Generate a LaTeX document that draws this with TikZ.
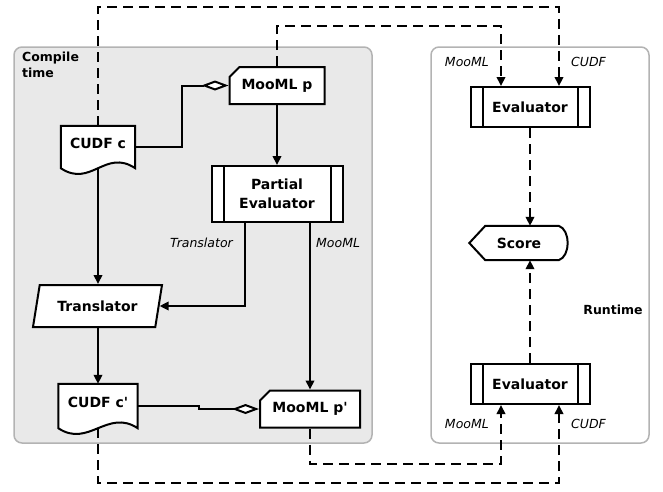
\documentclass[tikz,border=0pt]{standalone}
\usepackage{fontspec}
\setmainfont{DejaVu Sans}
\usetikzlibrary{calc,arrows.meta,shapes.geometric,shapes.misc}

\definecolor{regionfill}{HTML}{E9E9E9}
\definecolor{regionline}{HTML}{B3B3B3}

\pgfdeclarelayer{back}
\pgfdeclarelayer{links}
\pgfdeclarelayer{shapes}
\pgfsetlayers{back,links,shapes,main}

\tikzset{
  region/.style={draw=regionline, line width=1.5pt, rounded corners=8pt},
  regionlabel/.style={font=\fontsize{12.5}{16}\selectfont\bfseries, inner sep=0pt, align=left},
  boxtext/.style={font=\fontsize{14}{19}\selectfont\bfseries, align=center},
  process/.style={boxtext, draw, fill=white, line width=2pt, minimum width=119pt, minimum height=40pt},
  card/.style={boxtext, chamfered rectangle, chamfered rectangle corners=north west,
    chamfered rectangle xsep=5pt, chamfered rectangle ysep=5pt,
    draw, fill=white, line width=2pt, minimum height=37pt},
  doc/.style={boxtext, minimum height=42pt, text height=10.5pt, text depth=8pt},
  dataio/.style={boxtext, trapezium, trapezium left angle=69, trapezium right angle=111,
    trapezium stretches body, draw, fill=white, line width=2pt,
    minimum width=129pt, minimum height=42pt},
  scorebox/.style={boxtext, minimum width=99pt, minimum height=34pt},
  outline/.style={draw, fill=white, line width=2pt},
  flow/.style={line width=2pt, -{Triangle[length=9pt,width=8.5pt]}},
  ctl/.style={flow, dash pattern=on 10pt off 6pt},
  joint/.style={line width=2pt, -{Diamond[fill=white,length=27pt,width=10pt]}},
  lbl/.style={font=\fontsize{12.5}{15}\selectfont\itshape, inner sep=0pt}
}

\begin{document}
\begin{tikzpicture}[x=1pt,y=-1pt]
  \useasboundingbox (0,0) rectangle (663,491);

  %regions
  \begin{pgfonlayer}{back}
    \draw[region, fill=regionfill] (14,47) rectangle (372,443);
    \draw[region, fill=white] (431,47) rectangle (649,443);
  \end{pgfonlayer}
  \node[regionlabel, anchor=north west] (ctlabel) at (22,52) {Compile\\time};
  \node[regionlabel] (rtlabel) at (613,310) {Runtime};

  %compile time
  \node[card, minimum width=95pt] (mlp) at (277,85.5) {MooML p};
  \node[doc, minimum width=74pt] (cudfc) at (98,147) {CUDF c};
  \node[process, minimum width=131pt, minimum height=56pt] (pe) at (277,194) {Partial\\Evaluator};
  \node[dataio] (trans) at (97.5,306) {Translator};
  \node[doc, minimum width=79pt, minimum height=44pt] (cudfc2) at (98,406) {CUDF c\textquotesingle};
  \node[card, minimum width=100pt] (mlp2) at (310,409) {MooML p\textquotesingle};

  %runtime
  \node[process] (evtop) at (530,107) {Evaluator};
  \node[scorebox] (score) at (519,243) {Score};
  \node[process] (evbot) at (530,384) {Evaluator};

  %side bars of the processes
  \foreach \n in {pe,evtop,evbot}
    \draw[line width=2pt] ($(\n.north west)+(13,0)$) -- ($(\n.south west)+(13,0)$)
      ($(\n.north east)+(-13,0)$) -- ($(\n.south east)+(-13,0)$);

  %outlines
  \begin{pgfonlayer}{shapes}
    \foreach \n in {cudfc,cudfc2}
      \draw[outline] (\n.south west) -- (\n.north west) -- (\n.north east) -- (\n.south east)
        .. controls +(-30,-20) and +(30,20) .. (\n.south west) -- cycle;
    \draw[outline] (score.west) -- ($(score.north west)+(16,0)$) -- ($(score.north east)+(-10,0)$)
      .. controls +(12,4) and +(12,-4) .. ($(score.south east)+(-10,0)$)
      -- ($(score.south west)+(16,0)$) -- cycle;
  \end{pgfonlayer}

  \begin{pgfonlayer}{links}
    %compile time flow
    \draw[joint] (cudfc.east) -- ++(47,0) |- (mlp.west);
    \draw[flow] (mlp.south) -- (pe.north);
    \draw[flow] (cudfc.south) -- (cudfc.south |- trans.north);
    \draw[flow] ($(pe.south)+(-32,0)$) |- (trans.east);
    \draw[flow] ($(pe.south)+(33,0)$) -- (mlp2.north);
    \draw[flow] (cudfc.south |- trans.south) -- (cudfc2.north);
    \draw[joint] (cudfc2.east) -- ++(61,0) |- (mlp2.west);

    %runtime flow
    \draw[ctl] (cudfc.north) -- ++(0,-119) -| ($(evtop.north)+(29,0)$);
    \draw[ctl] (mlp.north) -- ++(0,-40) -| ($(evtop.north)+(-29,0)$);
    \draw[ctl] (evtop.south) -- (evtop.south |- score.north);
    \draw[ctl] (evbot.north) -- (evbot.north |- score.south);
    \draw[ctl] (mlp2.south) -- ++(0,35) -| ($(evbot.south)+(-29,0)$);
    \draw[ctl] (cudfc2.south) -- ++(0,55) -| ($(evbot.south)+(29,0)$);
  \end{pgfonlayer}

  %labels
  \node[lbl, anchor=east] (ltrans) at ($(pe.south)+(-44,20)$) {Translator};
  \node[lbl, anchor=west] (lmooml) at ($(pe.south)+(39,20)$) {MooML};
  \node[lbl, anchor=east] (ltopml) at ($(evtop.north)+(-41,-24)$) {MooML};
  \node[lbl, anchor=west] (ltopcd) at ($(evtop.north)+(41,-24)$) {CUDF};
  \node[lbl, anchor=east] (lbotml) at ($(evbot.south)+(-41,19)$) {MooML};
  \node[lbl, anchor=west] (lbotcd) at ($(evbot.south)+(41,19)$) {CUDF};
\end{tikzpicture}
\end{document}
